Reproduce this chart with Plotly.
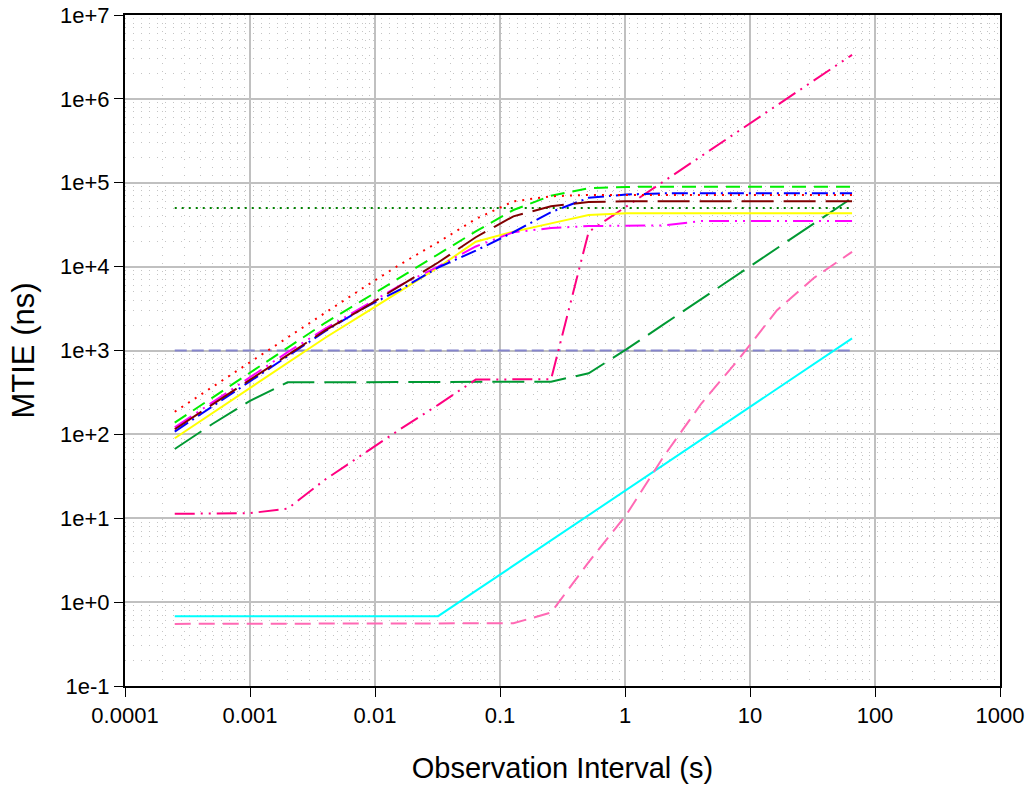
import plotly.graph_objects as go

# Observation intervals (s)
tau = [0.00025, 0.0005, 0.001, 0.002, 0.004, 0.008, 0.016, 0.032, 0.064, 0.128,
       0.256, 0.512, 1.024, 2.048, 4.096, 8.192, 16.384, 32.768, 65.536]

# MTIE values (ns)
red_dot = [186, 367, 725, 1430, 2820, 5560, 10700, 19500, 37000, 60000,
           69000, 71500, 71500, 71500, 71500, 71500, 71500, 71500, 71500]
green_dash = [138, 275, 550, 1095, 2140, 3980, 7500, 14100, 26300, 47300,
              70100, 85900, 89100, 89800, 89800, 89800, 89800, 89800, 89800]
blue_dashdot = [108, 214, 427, 851, 1700, 3160, 5370, 9770, 15500, 25700,
                44700, 66100, 72400, 74800, 74800, 74800, 74800, 74800, 74800]
brown_longdash = [115, 226, 447, 881, 1740, 3160, 5890, 11200, 22400, 39800,
                  52500, 58900, 60300, 60300, 60300, 60300, 60300, 60300, 60300]
magenta_dashdotdot = [121, 240, 479, 955, 1820, 3310, 6030, 10000, 17400, 25700,
                      28800, 30500, 30900, 31000, 35000, 35000, 35000, 35000, 35000]
yellow_solid = [90, 179, 359, 718, 1420, 2700, 5120, 9770, 19800, 26100,
                32800, 41200, 43300, 43300, 43300, 43300, 43300, 43300, 43300]
darkgreen_dash = [67, 133, 251, 418, 418, 418, 418, 418, 418, 420,
                  425, 535, 1030, 2060, 4120, 8240, 16500, 33000, 66000]
deeppink_dashdotdot = [11.3, 11.3, 11.5, 13, 29, 58, 116, 225, 450, 453,
                       453, 26000, 52000, 104000, 208000, 415000, 830000, 1660000, 3350000]
cyan_solid = [0.68, 0.68, 0.68, 0.68, 0.68, 0.68, 0.68, 0.68, 1.36, 2.72,
              5.44, 10.9, 21.8, 43.5, 87, 174, 348, 696, 1393]
hotpink_dash = [0.55, 0.55, 0.55, 0.55, 0.55, 0.55, 0.55, 0.55, 0.55, 0.56,
                0.75, 3, 11, 55, 235, 800, 3000, 7400, 15000]
limit_tau = [0.00025, 65.536]
slate_limit = [1000, 1000]
darkgreen_limit = [50000, 50000]

x_tickvals = [0.0001, 0.001, 0.01, 0.1, 1, 10, 100, 1000]
x_ticktext = ["0.0001", "0.001", "0.01", "0.1", "1", "10", "100", "1000"]
y_tickvals = [0.1, 1, 10, 100, 1000, 1e4, 1e5, 1e6, 1e7]
y_ticktext = ["1e-1", "1e+0", "1e+1", "1e+2", "1e+3", "1e+4", "1e+5", "1e+6", "1e+7"]

series = [
    (limit_tau, slate_limit, "#8585cc", "12px,5px", "1000 ns limit"),
    (limit_tau, darkgreen_limit, "#008000", "2px,5px", "50 us limit"),
    (tau, cyan_solid, "#00ffff", "solid", "cyan"),
    (tau, hotpink_dash, "#ff69b4", "16px,8px", "hot pink"),
    (tau, darkgreen_dash, "#009933", "32px,10px", "dark green"),
    (tau, deeppink_dashdotdot, "#ff0080", "20px,6px,2px,6px,2px,6px", "deep pink"),
    (tau, yellow_solid, "#ffff00", "solid", "yellow"),
    (tau, magenta_dashdotdot, "#ff00ff", "20px,6px,2px,6px,2px,6px", "magenta"),
    (tau, blue_dashdot, "#0000ff", "16px,5px,2px,5px", "blue"),
    (tau, brown_longdash, "#800000", "32px,10px", "brown"),
    (tau, green_dash, "#00ee00", "14px,8px", "green"),
    (tau, red_dot, "#ff0000", "2px,6px", "red"),
]

fig = go.Figure()
for xs, ys, color, dash, name in series:
    fig.add_trace(go.Scatter(x=xs, y=ys, mode="lines", name=name,
                             line=dict(color=color, width=2, dash=dash),
                             showlegend=False))

font_family = "Liberation Sans, Arial, sans-serif"
axis_common = dict(
    type="log", automargin=False,
    showline=True, linecolor="black", linewidth=2, mirror=True,
    ticks="outside", ticklen=9, tickwidth=1, tickcolor="black",
    showgrid=True, gridcolor="#c0c0c0", gridwidth=2,
    zeroline=False,
    tickfont=dict(family=font_family, size=22, color="black"),
    minor=dict(dtick="D1", showgrid=True, gridcolor="#c4c4c4", gridwidth=1,
               griddash="1px,7px", ticks=""),
)

fig.update_layout(
    width=1027, height=794,
    margin=dict(l=125, r=27, t=15, b=108, autoexpand=False),
    paper_bgcolor="white", plot_bgcolor="white",
    xaxis=dict(axis_common, range=[-4, 3], tickmode="array",
               tickvals=x_tickvals, ticktext=x_ticktext,
               title=dict(text="Observation Interval (s)", standoff=30,
                          font=dict(family=font_family, size=29, color="black"))),
    yaxis=dict(axis_common, range=[-1, 7], tickmode="array",
               tickvals=y_tickvals, ticktext=y_ticktext,
               title=dict(text="MTIE (ns)", standoff=16,
                          font=dict(family=font_family, size=31, color="black"))),
)

fig.write_html("out.html",
               config={"displayModeBar": False},
               post_script="document.body.style.margin='0px';"
                           "document.body.style.overflow='hidden';")
